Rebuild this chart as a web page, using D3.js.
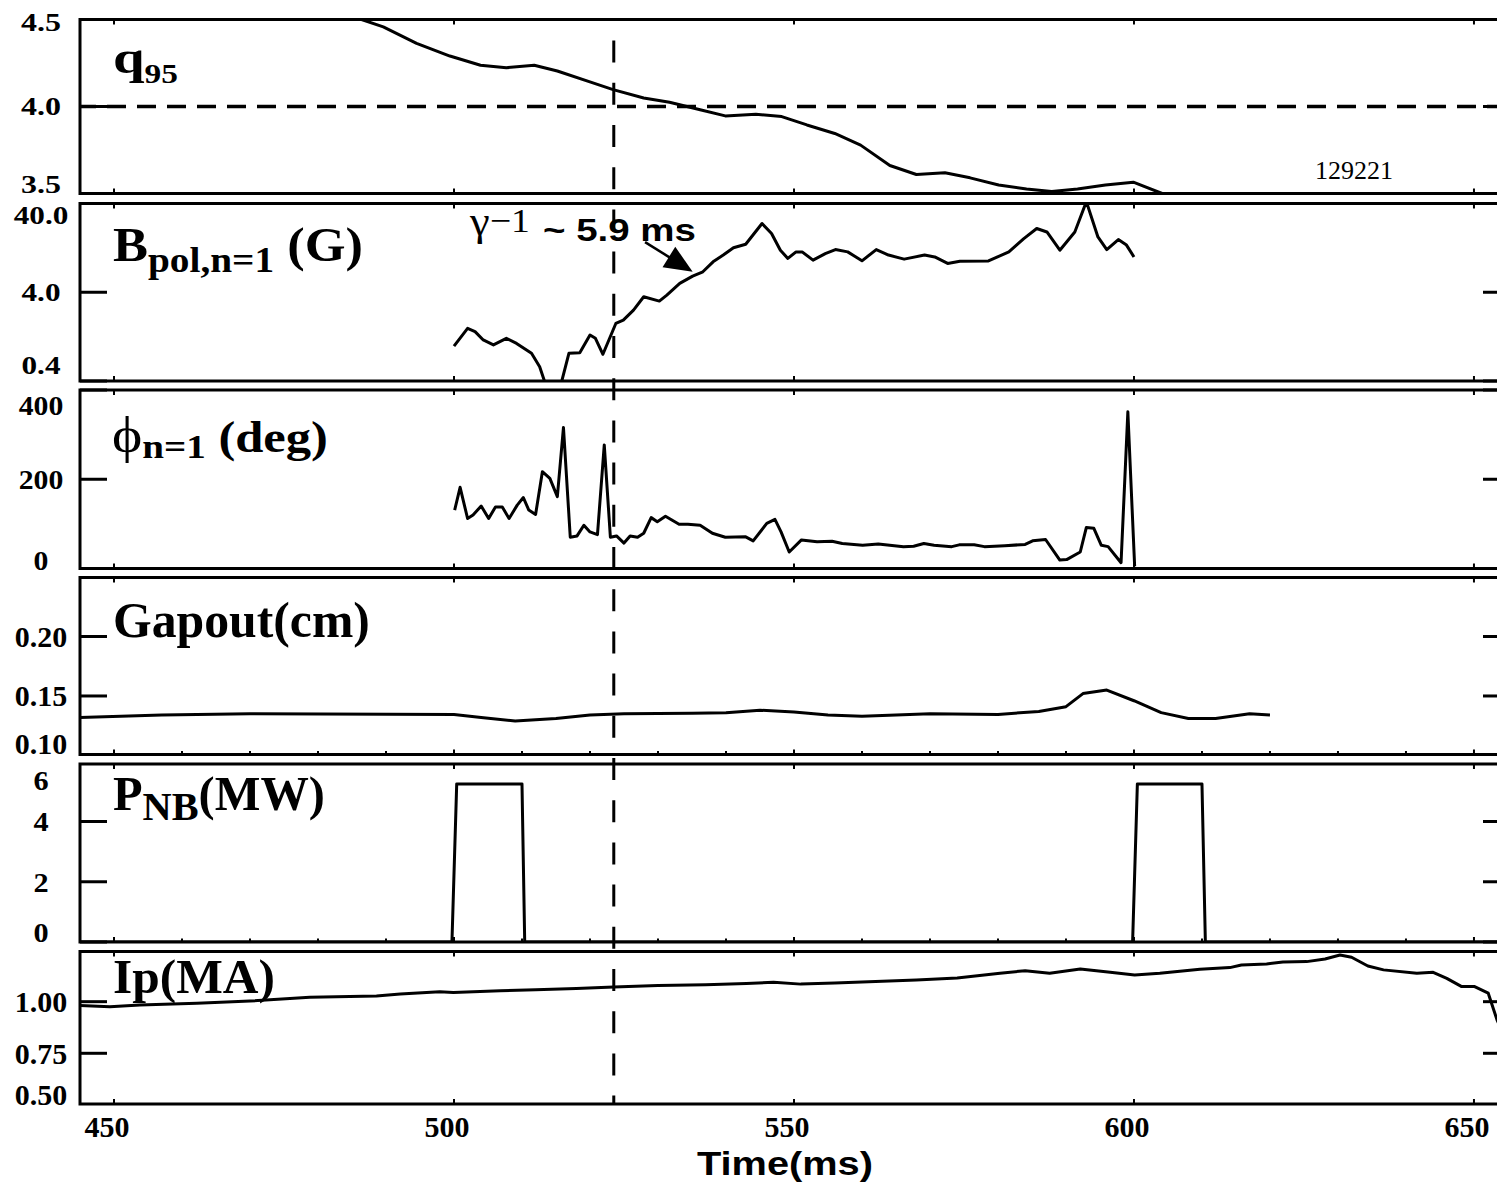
<!DOCTYPE html>
<html>
<head>
<meta charset="utf-8">
<script src="https://cdn.jsdelivr.net/npm/d3@7"></script>
<style>
  body { margin: 0; background: #fff; }
  svg { display: block; }
</style>
</head>
<body>
<svg id="chart" width="1497" height="1182"></svg>
<script>
// ---------- time axis ----------
const timeTicks = [450, 500, 550, 600, 650];
const timeTickLabels = ['450', '500', '550', '600', '650'];
const markerTime = 523.5;            // vertical dashed marker (ms)
const shotNumber = '129221';

// ---------- q95 ----------
const q95Time = [484, 486.4, 489.6, 494.5, 499.4, 503.9, 507.7, 511.8, 515.2, 520.1, 523.4, 527.9, 531.7, 536.2, 539.9, 544.4, 548.2, 551.9, 556.0, 559.8, 564.1, 568.0, 572.2, 575.9, 580.1, 584.2, 587.9, 591.7, 595.8, 599.9, 604.8];
const q95Values = [4.53, 4.50, 4.458, 4.363, 4.29, 4.237, 4.223, 4.237, 4.204, 4.14, 4.097, 4.049, 4.024, 3.981, 3.946, 3.956, 3.942, 3.894, 3.845, 3.778, 3.661, 3.609, 3.619, 3.59, 3.549, 3.526, 3.512, 3.526, 3.549, 3.565, 3.49];
const q95Ticks = [3.5, 4.0, 4.5];
const q95TickLabels = ['3.5', '4.0', '4.5'];
const q95Reference = 4.0;

// ---------- B_pol, n=1 (G), log axis ----------
const bpolTime = [500.0, 502.0, 503.1, 504.3, 505.8, 507.7, 509.2, 511.4, 512.6, 513.5, 515.7, 516.9, 518.5, 520.0, 520.8, 521.9, 523.8, 524.9, 526.4, 527.9, 530.2, 531.3, 533.2, 535.1, 536.6, 538.1, 539.6, 541.1, 542.9, 545.3, 546.7, 548.0, 549.1, 550.3, 551.2, 552.8, 554.6, 556.1, 557.9, 560.0, 562.1, 563.9, 566.2, 569.2, 570.7, 572.6, 574.4, 578.6, 581.6, 583.8, 585.7, 587.2, 589.1, 591.3, 593.0, 594.7, 596.0, 597.7, 598.9, 600.0];
const bpolValues = [0.99, 1.57, 1.44, 1.16, 1.02, 1.21, 1.06, 0.82, 0.58, 0.36, 0.36, 0.82, 0.83, 1.32, 1.21, 0.80, 1.78, 1.94, 2.52, 3.56, 3.18, 3.72, 5.03, 6.08, 6.8, 8.81, 10.5, 12.7, 13.9, 23.8, 18.4, 11.9, 9.62, 11.4, 11.4, 9.2, 10.9, 12.1, 11.4, 9.04, 12.1, 10.5, 9.44, 10.5, 10.0, 8.45, 8.95, 9.0, 11.4, 16.1, 20.9, 19.1, 11.9, 19.1, 42, 16.8, 12.1, 15.7, 13.6, 10.0];
const bpolTicks = [0.4, 4, 40];
const bpolTickLabels = ['0.4', '4.0', '40.0'];
// growth-rate annotation: arrow from tail to tip (ms, G)
const growthArrow = { tail: [528.1, 14.7], tip: [535.1, 6.8] };

// ---------- phase phi n=1 (deg) ----------
const phiTime = [500.1, 500.9, 502.0, 502.8, 504.0, 505.1, 506.1, 507.1, 508.1, 509.3, 510.2, 511.0, 512.0, 513.0, 514.1, 515.2, 516.1, 517.1, 518.1, 519.1, 520.0, 521.1, 522.1, 523.0, 523.9, 525.0, 525.9, 527.0, 527.9, 529.0, 529.9, 531.1, 532.1, 533.1, 534.4, 536.2, 538.0, 539.9, 542.9, 544.0, 546.0, 547.2, 548.1, 549.3, 551.1, 553.4, 555.6, 557.1, 560.1, 562.4, 566.1, 567.6, 569.1, 570.6, 573.2, 574.3, 576.5, 578.0, 581.0, 584.0, 585.1, 587.0, 589.1, 590.1, 592.1, 593.0, 594.1, 595.2, 596.2, 598.1, 599.1, 600.1];
const phiValues = [131, 182, 112, 120, 140, 112, 138, 138, 112, 142, 159, 131, 121, 217, 202, 161, 316, 70, 73, 97, 82, 76, 277, 70, 73, 57, 73, 70, 79, 114, 105, 117, 108, 99, 99, 97, 79, 70, 71, 62, 101, 110, 82, 37, 64, 60, 61, 56, 52, 55, 49, 50, 56, 52, 49, 53, 53, 49, 51, 54, 62, 65, 19, 20, 37, 92, 90, 52, 49, 13, 351, 5];
const phiTicks = [0, 200, 400];
const phiTickLabels = ['0', '200', '400'];

// ---------- Gapout (cm) ----------
const gapTime = [445, 457, 470, 500, 504, 509, 515, 520, 525, 535, 540, 545, 550, 555, 560, 570, 580, 586, 590, 592.5, 596, 600, 604, 608, 612, 617, 620];
const gapValues = [0.132, 0.134, 0.135, 0.1345, 0.132, 0.129, 0.131, 0.134, 0.135, 0.1355, 0.136, 0.138, 0.1365, 0.134, 0.133, 0.135, 0.1345, 0.137, 0.141, 0.152, 0.155, 0.146, 0.136, 0.131, 0.131, 0.135, 0.134];
const gapTicks = [0.10, 0.15, 0.20];
const gapTickLabels = ['0.10', '0.15', '0.20'];

// ---------- neutral beam power (MW) ----------
const pnbTime = [445, 499.7, 500.4, 510.0, 510.4, 599.8, 600.5, 610.0, 610.5, 655.3];
const pnbValues = [0, 0, 5.25, 5.25, 0, 0, 5.25, 5.25, 0, 0];
const pnbTicks = [0, 2, 4, 6];
const pnbTickLabels = ['0', '2', '4', '6'];

// ---------- plasma current (MA) ----------
const ipTime = [445, 449.4, 453.8, 462.2, 470, 478.8, 488.6, 492.1, 497.9, 499.9, 506.8, 512, 518, 523.5, 530, 537, 543, 547, 551, 556, 562, 568, 574, 580.3, 584, 587.6, 592.1, 596.5, 600.1, 603.8, 609.7, 614.1, 615.8, 619.5, 621.9, 625.4, 628.1, 630.3, 632, 634.4, 636.7, 641.6, 644, 646, 648.2, 650.1, 652.1, 653.4, 655];
const ipValues = [0.981, 0.976, 0.984, 0.992, 1.003, 1.021, 1.028, 1.037, 1.048, 1.044, 1.053, 1.058, 1.064, 1.071, 1.078, 1.082, 1.088, 1.094, 1.085, 1.09, 1.098, 1.105, 1.115, 1.138, 1.150, 1.138, 1.158, 1.142, 1.129, 1.138, 1.157, 1.165, 1.178, 1.183, 1.192, 1.194, 1.207, 1.226, 1.215, 1.173, 1.154, 1.138, 1.142, 1.113, 1.073, 1.073, 1.041, 0.911, 0.80];
const ipTicks = [0.50, 0.75, 1.00];
const ipTickLabels = ['0.50', '0.75', '1.00'];

// ---------- layout ----------
const SERIF = '"Liberation Serif", "Times New Roman", serif';
const SANS = '"Liberation Sans", Arial, sans-serif';
const X0 = 80, X1 = 1510;
const TICK = 27, XTICK = 5, XMINOR = 3.5;

const x = d3.scaleLinear().domain([445, 655.3]).range([X0, X1]);
const svg = d3.select('#chart');
const defs = svg.append('defs');

const panels = [
  { id: 'q95', t: q95Time, v: q95Values, ticks: q95Ticks, labels: q95TickLabels,
    scale: d3.scaleLinear().domain([3.5, 4.5]), top: 19.5, bottom: 193.5,
    font: 25, sx: 1.28, padTop: 2.5, padBot: 9.5, minor: false },
  { id: 'bpol', t: bpolTime, v: bpolValues, ticks: bpolTicks, labels: bpolTickLabels,
    scale: d3.scaleLog().domain([0.4, 40]), top: 203.5, bottom: 381,
    font: 26, sx: 1.2, padTop: 11.5, padBot: 16, minor: false },
  { id: 'phi', t: phiTime, v: phiValues, ticks: phiTicks, labels: phiTickLabels,
    scale: d3.scaleLinear().domain([0, 400]), top: 390, bottom: 568.5,
    font: 27, sx: 1.1, padTop: 16, padBot: 8, minor: false },
  { id: 'gap', t: gapTime, v: gapValues, ticks: gapTicks, labels: gapTickLabels,
    scale: d3.scaleLinear().domain([0.1008, 0.2496]), top: 577.5, bottom: 754.5,
    font: 30, sx: 1.0, padTop: 12, padBot: 11, minor: true },
  { id: 'pnb', t: pnbTime, v: pnbValues, ticks: pnbTicks, labels: pnbTickLabels,
    scale: d3.scaleLinear().domain([0, 5.91]), top: 764, bottom: 942,
    font: 28, sx: 1.08, padTop: 16, padBot: 10, minor: true },
  { id: 'ip', t: ipTime, v: ipValues, ticks: ipTicks, labels: ipTickLabels,
    scale: d3.scaleLinear().domain([0.5044, 1.243]), top: 951.5, bottom: 1104,
    font: 30, sx: 1.0, padTop: 12, padBot: 10, minor: false }
];

// Scale a text element horizontally so that it spans [left, left + width].
function fitText(sel, left, width) {
  const bb = sel.node().getBBox();
  const sx = width / bb.width;
  sel.attr('transform', `translate(${left},0) scale(${sx},1) translate(${-bb.x},0)`);
}

panels.forEach(p => {
  p.y = p.scale.copy().range([p.bottom, p.top]);
  const g = svg.append('g').attr('class', 'panel-' + p.id);

  defs.append('clipPath').attr('id', 'clip-' + p.id)
    .append('rect').attr('x', X0).attr('y', p.top)
    .attr('width', X1 - X0).attr('height', p.bottom - p.top);

  // frame
  g.append('rect')
    .attr('x', X0).attr('y', p.top)
    .attr('width', X1 - X0).attr('height', p.bottom - p.top)
    .attr('fill', 'none').attr('stroke', '#000').attr('stroke-width', 3);

  // y ticks, both sides, pointing inward
  const [d0, d1] = p.scale.domain();
  p.ticks.forEach((v, i) => {
    const inDomain = v >= Math.min(d0, d1) - 1e-9 && v <= Math.max(d0, d1) + 1e-9;
    const yy = p.y(v);
    if (inDomain) {
      g.append('line').attr('x1', X0).attr('x2', X0 + TICK).attr('y1', yy).attr('y2', yy)
        .attr('stroke', '#000').attr('stroke-width', 3);
      g.append('line').attr('x1', X1 - TICK).attr('x2', X1).attr('y1', yy).attr('y2', yy)
        .attr('stroke', '#000').attr('stroke-width', 3);
    }
    const ly = Math.max(p.top + p.padTop, Math.min(p.bottom - p.padBot, inDomain ? yy : (v > Math.max(d0, d1) ? p.top : p.bottom)));
    g.append('text')
      .attr('transform', `translate(41,${ly}) scale(${p.sx},1)`)
      .attr('text-anchor', 'middle').attr('dy', '0.35em')
      .attr('font-family', SERIF).attr('font-weight', 'bold').attr('font-size', p.font)
      .text(p.labels[i]);
  });

  // x ticks, top and bottom
  timeTicks.forEach(t => {
    const xx = x(t);
    g.append('line').attr('x1', xx).attr('x2', xx).attr('y1', p.top).attr('y2', p.top + XTICK)
      .attr('stroke', '#000').attr('stroke-width', 2);
    g.append('line').attr('x1', xx).attr('x2', xx).attr('y1', p.bottom).attr('y2', p.bottom - XTICK)
      .attr('stroke', '#000').attr('stroke-width', 2);
  });
  if (p.minor) {
    d3.range(450, 656, 10).filter(t => t % 50 !== 0).forEach(t => {
      g.append('line').attr('x1', x(t)).attr('x2', x(t)).attr('y1', p.bottom).attr('y2', p.bottom - XMINOR)
        .attr('stroke', '#000').attr('stroke-width', 2);
    });
  }

  const body = g.append('g').attr('clip-path', `url(#clip-${p.id})`);

  if (p.id === 'q95') {
    body.append('line')
      .attr('x1', X0).attr('x2', X1)
      .attr('y1', p.y(q95Reference)).attr('y2', p.y(q95Reference))
      .attr('stroke', '#000').attr('stroke-width', 3.5)
      .attr('stroke-dasharray', '19,11').attr('stroke-dashoffset', -27);
  }

  const pts = p.t.map((t, i) => [t, p.v[i]]);
  body.append('path')
    .datum(pts)
    .attr('d', d3.line().x(d => x(d[0])).y(d => p.y(d[1])))
    .attr('fill', 'none').attr('stroke', '#000')
    .attr('stroke-width', 3).attr('stroke-linejoin', 'round');
});

// ---------- panel titles ----------
function title(parts, left, right, baseline) {
  const t = svg.append('text').attr('x', 0).attr('y', baseline)
    .attr('font-family', SERIF).attr('fill', '#000');
  parts.forEach(pt => {
    t.append('tspan')
      .attr('font-size', pt.size)
      .attr('font-weight', pt.weight || 'bold')
      .attr('dy', pt.dy || 0)
      .text(pt.text);
  });
  fitText(t, left, right - left);
  return t;
}

title([{ text: 'q', size: 46 }, { text: '95', size: 27, dy: 10 }], 113, 178, 73);
title([{ text: 'B', size: 48 }, { text: 'pol,n=1', size: 36, dy: 11 }, { text: ' (G)', size: 48, dy: -11 }], 113, 363, 261);
title([{ text: 'ϕ', size: 50, weight: 'normal' }, { text: 'n=1', size: 34, dy: 6 }, { text: ' (deg)', size: 44, dy: -6 }], 112, 328, 452);
title([{ text: 'Gapout(cm)', size: 50 }], 113, 370, 637);
title([{ text: 'P', size: 48 }, { text: 'NB', size: 40, dy: 10 }, { text: '(MW)', size: 48, dy: -10 }], 113, 325, 810);
title([{ text: 'Ip(MA)', size: 49 }], 113, 275, 993);

// shot number
const shot = svg.append('text').attr('x', 0).attr('y', 178.5)
  .attr('font-family', SERIF).attr('font-size', 26).text(shotNumber);
fitText(shot, 1315, 78);

// ---------- growth-time annotation in the B_pol panel ----------
const bp = panels[1];
const gam = svg.append('text').attr('x', 0).attr('y', 235).attr('font-family', SERIF);
gam.append('tspan').attr('font-size', 40).text('γ');
gam.append('tspan').attr('font-size', 34).attr('dy', -3).text('−1');
fitText(gam, 469, 61);
const gtxt = svg.append('text').attr('x', 0).attr('y', 241)
  .attr('font-family', SANS).attr('font-weight', 'bold').attr('font-size', 31)
  .text('~ 5.9 ms');
fitText(gtxt, 543, 153);

{
  const tx = x(growthArrow.tail[0]), ty = bp.y(growthArrow.tail[1]);
  const hx = x(growthArrow.tip[0]), hy = bp.y(growthArrow.tip[1]);
  const len = Math.hypot(hx - tx, hy - ty);
  const ux = (hx - tx) / len, uy = (hy - ty) / len;
  const L = 28, Wd = 12;
  const bx = hx - ux * L, by = hy - uy * L;
  svg.append('line').attr('x1', tx).attr('y1', ty).attr('x2', bx + ux * 4).attr('y2', by + uy * 4)
    .attr('stroke', '#000').attr('stroke-width', 2.5);
  svg.append('path')
    .attr('d', `M${hx},${hy} L${bx - uy * Wd},${by + ux * Wd} L${bx + uy * Wd},${by - ux * Wd} Z`)
    .attr('fill', '#000');
}

// ---------- time axis labels ----------
timeTicks.forEach((t, i) => {
  svg.append('text')
    .attr('x', x(t) - 7).attr('y', 1137)
    .attr('text-anchor', 'middle')
    .attr('font-family', SERIF).attr('font-weight', 'bold').attr('font-size', 30)
    .text(timeTickLabels[i]);
});
const xt = svg.append('text').attr('x', 0).attr('y', 1175)
  .attr('font-family', SANS).attr('font-weight', 'bold').attr('font-size', 34)
  .text('Time(ms)');
fitText(xt, 697, 176);

// ---------- vertical dashed marker across all panels ----------
svg.append('line')
  .attr('x1', x(markerTime)).attr('x2', x(markerTime))
  .attr('y1', panels[0].top).attr('y2', panels[panels.length - 1].bottom)
  .attr('stroke', '#000').attr('stroke-width', 3)
  .attr('stroke-dasharray', '22,20.2').attr('stroke-dashoffset', 21.1);
</script>
</body>
</html>
